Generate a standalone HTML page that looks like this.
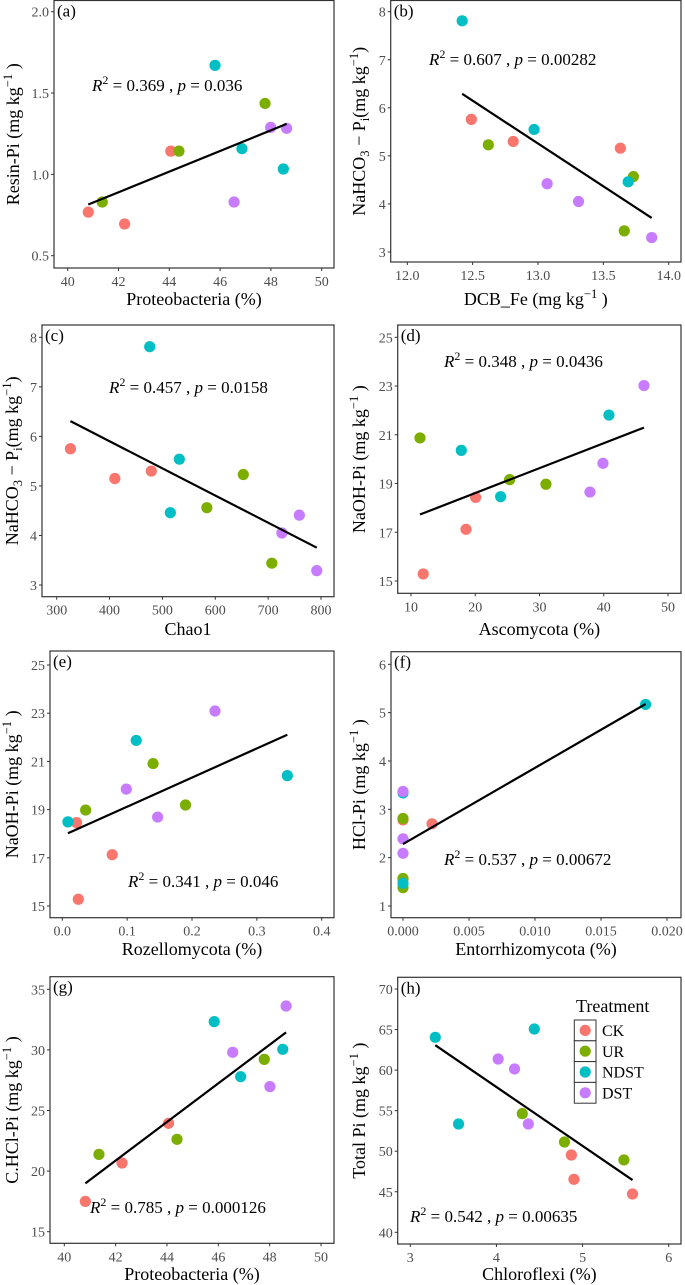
<!DOCTYPE html>
<html><head><meta charset="utf-8"><style>
html,body{margin:0;padding:0;background:#fff}
svg{display:block}
svg text{font-family:"Liberation Serif","DejaVu Serif",serif}
</style></head><body>
<svg id="chart" width="685" height="1285" viewBox="0 0 685 1285" xmlns="http://www.w3.org/2000/svg" font-family="Liberation Serif, serif"></svg>
<script>
// Treatment of each point (same order in every panel)
const groups = ['CK','CK','CK','UR','UR','UR','NDST','NDST','NDST','DST','DST','DST'];
const treatments = ['CK','UR','NDST','DST'];
const colors = ['#F8766D','#7CAE00','#00BFC4','#C77CFF'];

const aX = [40.81,42.24,44.06, 41.36,44.38,47.77, 45.80,46.86,48.49, 46.55,47.99,48.62];
const aY = [0.768,0.695,1.143, 0.83,1.143,1.436, 1.67,1.158,1.033, 0.83,1.289,1.283];
const bX = [12.49,12.81,13.63, 12.62,13.73,13.66, 12.42,12.97,13.69, 13.07,13.31,13.87];
const bY = [5.76,5.30,5.16, 5.23,4.57,3.44, 7.81,5.55,4.46, 4.42,4.05,3.30];
const cX = [326,410,479, 653,584,707, 476,532,515, 726,759,792];
const cY = [5.75,5.15,5.30, 5.23,4.56,3.44, 7.81,5.54,4.46, 4.05,4.41,3.29];
const dX = [11.9,18.56,20.06, 11.4,25.35,31.0, 17.83,23.95,40.81, 37.85,39.88,46.26];
const dY = [15.29,17.12,18.43, 20.87,19.16,18.97, 20.36,18.46,21.81, 18.65,19.83,23.02];
const eX = [0.022,0.077,0.0247, 0.036,0.140,0.190, 0.0087,0.114,0.347, 0.0987,0.147,0.2355];
const eY = [18.46,17.13,15.28, 18.98,20.91,19.19, 18.49,21.87,20.41, 19.85,18.69,23.09];
const fX = [0.0022,0,0, 0,0,0, 0.01838,0,0, 0,0,0];
const fY = [2.70,2.78,1.55, 2.81,1.57,1.38, 5.17,3.34,1.47, 3.37,2.39,2.09];
const gX = [40.82,42.25,44.06, 41.35,44.39,47.79, 45.84,46.87,48.51, 46.56,48.01,48.64];
const gY = [17.50,20.67,23.94, 21.38,22.62,29.22, 32.33,27.79,30.05, 29.8,26.97,33.62];
const hX = [4.87,4.90,5.58, 4.30,4.79,5.48, 3.29,4.44,3.56, 4.02,4.21,4.37];
const hY = [49.53,46.53,44.72, 54.63,51.13,48.92, 64.04,65.07,53.35, 61.37,60.14,53.35];

const r2Values = ['0.369','0.607','0.457','0.348','0.341','0.537','0.785','0.542'];
const pValues = ['0.036','0.00282','0.0158','0.0436','0.046','0.00672','0.000126','0.00635'];

const aXTicks=[40,42,44,46,48,50], aYTicks=[0.5,1.0,1.5,2.0];
const bXTicks=[12.0,12.5,13.0,13.5,14.0], bYTicks=[3,4,5,6,7,8];
const cXTicks=[300,400,500,600,700,800], cYTicks=[3,4,5,6,7,8];
const dXTicks=[10,20,30,40,50], dYTicks=[15,17,19,21,23,25];
const eXTicks=[0,0.1,0.2,0.3,0.4], eYTicks=[15,17,19,21,23,25];
const fXTicks=[0,0.005,0.010,0.015,0.020], fYTicks=[1,2,3,4,5,6];
const gXTicks=[40,42,44,46,48,50], gYTicks=[15,20,25,30,35];
const hXTicks=[3,4,5,6], hYTicks=[40,45,50,55,60,65,70];

const svg=document.getElementById('chart');
const NS='http://www.w3.org/2000/svg';
const FONT='"Liberation Serif", "DejaVu Serif", serif';
function el(tag,attrs,parent){const e=document.createElementNS(NS,tag);for(const k in attrs)e.setAttribute(k,attrs[k]);if(tag==='text')e.setAttribute('font-family',FONT);(parent||svg).appendChild(e);return e;}

const panels=[
 {id:'a',X:aX,Y:aY,xt:aXTicks,yt:aYTicks,xd:0,yd:1,box:[54,0.5,334,268],xr:[67.7,321.7],yr:[255.7,11.7],
  xtitle:[['Proteobacteria (%)']],ytitle:[['Resin-Pi (mg  kg'],['−1','sup'],[' )']],ytx:13,xty:305,ann:[92,91]},
 {id:'b',X:bX,Y:bY,xt:bXTicks,yt:bYTicks,xd:1,yd:0,box:[390.7,0.5,681,262],xr:[407.3,668.7],yr:[252,11.7],
  xtitle:[['DCB_Fe (mg  kg'],['−1','sup'],[' )']],ytitle:[['NaHCO'],['3','sub'],[' − P'],['i','sub'],['(mg kg'],['−1','sup'],[')']],ytx:359,xty:305,ann:[429,65]},
 {id:'c',X:cX,Y:cY,xt:cXTicks,yt:cYTicks,xd:0,yd:0,box:[42,325,334,596.7],xr:[56.7,321],yr:[585,337.3],
  xtitle:[['Chao1']],ytitle:[['NaHCO'],['3','sub'],[' − P'],['i','sub'],['(mg kg'],['−1','sup'],[')']],ytx:12,xty:635,ann:[109,393]},
 {id:'d',X:dX,Y:dY,xt:dXTicks,yt:dYTicks,xd:0,yd:0,box:[397.7,325,681,593.3],xr:[411,668],yr:[581,337.3],
  xtitle:[['Ascomycota (%)']],ytitle:[['NaOH-Pi (mg  kg'],['−1','sup'],[' )']],ytx:359,xty:635,ann:[444,367]},
 {id:'e',X:eX,Y:eY,xt:eXTicks,yt:eYTicks,xd:1,yd:0,box:[50,651,334,917.7],xr:[62.3,321.7],yr:[906,665],
  xtitle:[['Rozellomycota (%)']],ytitle:[['NaOH-Pi (mg  kg'],['−1','sup'],[' )']],ytx:12,xty:955,ann:[128,887]},
 {id:'f',X:fX,Y:fY,xt:fXTicks,yt:fYTicks,xd:3,yd:0,box:[391,651.7,681,917.7],xr:[403,667],yr:[906,664.3],
  xtitle:[['Entorrhizomycota (%)']],ytitle:[['HCl-Pi (mg  kg'],['−1','sup'],[' )']],ytx:359,xty:955,ann:[444,865]},
 {id:'g',X:gX,Y:gY,xt:gXTicks,yt:gYTicks,xd:0,yd:0,box:[50,976.7,334,1243.3],xr:[64.3,321],yr:[1231.7,989.3],
  xtitle:[['Proteobacteria (%)']],ytitle:[['C.HCl-Pi (mg  kg'],['−1','sup'],[' )']],ytx:12,xty:1280,ann:[90,1213]},
 {id:'h',X:hX,Y:hY,xt:hXTicks,yt:hYTicks,xd:0,yd:0,box:[397.7,977.3,681,1244],xr:[410.3,668.7],yr:[1232.3,989],
  xtitle:[['Chloroflexi (%)']],ytitle:[['Total Pi (mg  kg'],['−1','sup'],[' )']],ytx:359,xty:1280,ann:[410,1222]}
];

function addRich(t,parts,size){
  let cur=0;
  parts.forEach(p=>{
    const target=p[1]==='sup'?-7:(p[1]==='sub'?4:0);
    const ts=el('tspan',{},t);
    ts.textContent=p[0];
    if(target!==cur){ts.setAttribute('dy',target-cur);cur=target;}
    if(p[1])ts.setAttribute('font-size',size*0.7);
  });
}

panels.forEach((P,pi)=>{
  const g=el('g',{});
  
  
  const [L,T,R,B]=P.box;
  const xs=v=>P.xr[0]+(v-P.xt[0])/(P.xt[P.xt.length-1]-P.xt[0])*(P.xr[1]-P.xr[0]);
  const ys=v=>P.yr[0]+(v-P.yt[0])/(P.yt[P.yt.length-1]-P.yt[0])*(P.yr[1]-P.yr[0]);
  const box=el('rect',{x:L,y:T,width:R-L,height:B-T,fill:'#fff',stroke:'#333',"stroke-width":1.2},g);
  
  
  P.xt.forEach(v=>{
    const x=xs(v);
    el('line',{x1:x,x2:x,y1:B,y2:B+3,stroke:'#333'},g);
    const t=el('text',{x:x,y:B+18,'text-anchor':'middle','font-size':14,fill:'#4d4d4d'},g);
    t.textContent=v.toFixed(P.xd);
    
    
  });
  P.yt.forEach(v=>{
    const y=ys(v);
    el('line',{x1:L-3,x2:L,y1:y,y2:y,stroke:'#333'},g);
    const t=el('text',{x:L-5,y:y+5,'text-anchor':'end','font-size':14,fill:'#4d4d4d'},g);
    t.textContent=v.toFixed(P.yd);
    
    
  });
  const n=P.X.length;let mx=0,my=0;for(let i=0;i<n;i++){mx+=P.X[i];my+=P.Y[i];}mx/=n;my/=n;
  let sxy=0,sxx=0;for(let i=0;i<n;i++){sxy+=(P.X[i]-mx)*(P.Y[i]-my);sxx+=(P.X[i]-mx)**2;}
  const sl=sxy/sxx,ic=my-sl*mx;const x0=Math.min(...P.X),x1=Math.max(...P.X);
  P.X.forEach((xv,i)=>{
    const c=el('circle',{cx:xs(xv),cy:ys(P.Y[i]),r:5.6,fill:colors[treatments.indexOf(groups[i])]},g);
    
    
  });
  const ln=el('line',{x1:xs(x0),y1:ys(sl*x0+ic),x2:xs(x1),y2:ys(sl*x1+ic),stroke:'#000','stroke-width':2.2},g);
  
  
  const pl=el('text',{x:L+3,y:T+16,'font-size':17,fill:'#000'},g);
  pl.textContent='('+P.id+')';
  
  
  const an=el('text',{x:P.ann[0],y:P.ann[1],'font-size':17,fill:'#000'},g);
  
  
  const r=el('tspan',{'font-style':'italic'},an);r.textContent='R';
  const s=el('tspan',{dy:-7,'font-size':12},an);s.textContent='2';
  const m=el('tspan',{dy:7},an);m.textContent=' = '+r2Values[pi]+' , ';
  const pp=el('tspan',{'font-style':'italic'},an);pp.textContent='p';
  const m2=el('tspan',{},an);m2.textContent=' = '+pValues[pi];
  const xt=el('text',{x:(L+R)/2,y:P.xty,'text-anchor':'middle','font-size':18,fill:'#000'},g);
  addRich(xt,P.xtitle,18);
  
  
  const cy=(T+B)/2;
  const yt=el('text',{x:0,y:0,'text-anchor':'middle','font-size':18,fill:'#000',transform:'translate('+(P.ytx+6)+','+cy+') rotate(-90)'},g);
  addRich(yt,P.ytitle,18);
  
  
});

const lg=el('g',{});


const lt=el('text',{x:576,y:1012,'font-size':18,fill:'#000'},lg);
lt.textContent='Treatment';


treatments.forEach((tr,i)=>{
  const y0=1020+i*20.8;
  const k=el('rect',{x:574.3,y:y0,width:21.7,height:20.8,fill:'#fff',stroke:'#333','stroke-width':1},lg);
  
  
  el('circle',{cx:585.2,cy:y0+10.4,r:5.6,fill:colors[i]},lg);
  const t=el('text',{x:602,y:y0+16,'font-size':16,fill:'#000'},lg);
  t.textContent=tr;
  
  
});
</script>
</body></html>
